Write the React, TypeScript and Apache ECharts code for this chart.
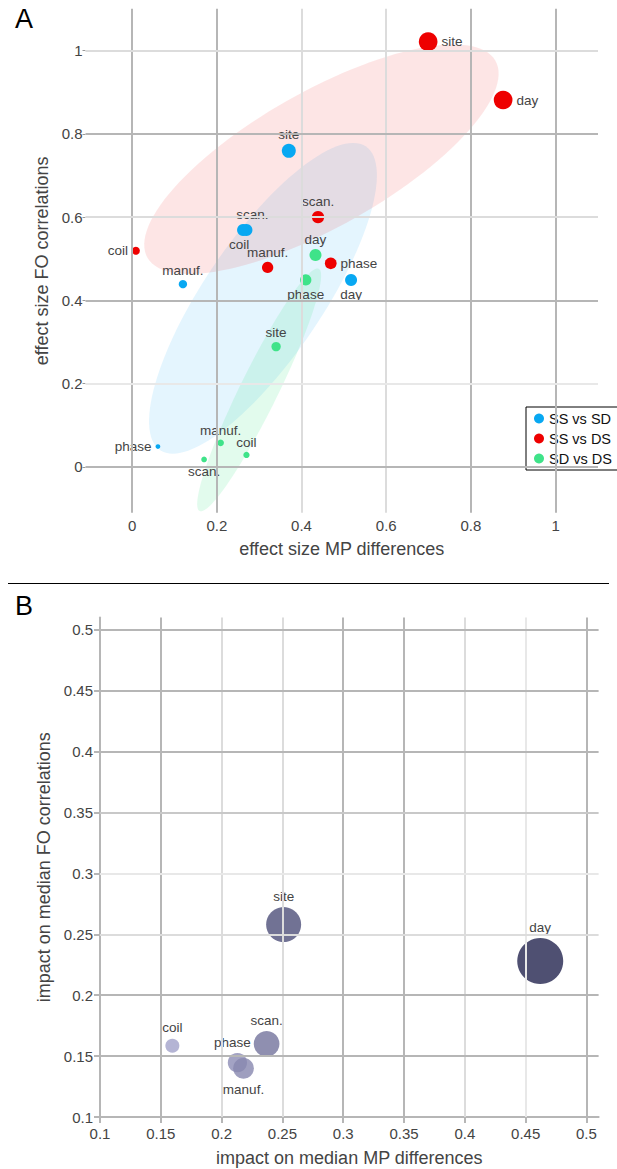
import React, { useEffect, useRef } from "react";
import * as echarts from "echarts";

const FONT = '"Liberation Sans", Arial, Helvetica, sans-serif';

// ---------- Panel A data ----------
const ssSdNames = ["site", "scan.", "coil", "manuf.", "phase", "day"];
const ssSdX = [0.37, 0.27, 0.262, 0.12, 0.061, 0.517];
const ssSdY = [0.759, 0.569, 0.569, 0.439, 0.049, 0.449];
const ssSdSize = [14, 12, 12, 8.3, 4.7, 12];

const ssDsNames = ["site", "day", "scan.", "phase", "manuf.", "coil"];
const ssDsX = [0.699, 0.876, 0.439, 0.469, 0.32, 0.009];
const ssDsY = [1.021, 0.881, 0.6, 0.489, 0.479, 0.519];
const ssDsSize = [18.7, 18.7, 12.3, 11.7, 11.3, 8];

const sdDsNames = ["day", "phase", "site", "manuf.", "coil", "scan."];
const sdDsX = [0.433, 0.41, 0.34, 0.209, 0.27, 0.17];
const sdDsY = [0.509, 0.449, 0.289, 0.058, 0.029, 0.018];
const sdDsSize = [12, 11.3, 9.3, 6.7, 6.3, 5.7];

// confidence ellipses (data units): centre, semi-axes, rotation
const ellipseGroups = ["SS vs SD", "SS vs DS", "SD vs DS"];
const ellipseCx = [0.309, 0.447, 0.3];
const ellipseCy = [0.405, 0.739, 0.185];
const ellipseA = [0.438, 0.474, 0.323];
const ellipseB = [0.14, 0.162, 0.045];
const ellipseAngle = [56.4, 30, 64.2];

const aTicks = [0, 0.2, 0.4, 0.6, 0.8, 1];

// ---------- Panel B data ----------
const bNames = ["day", "site", "scan.", "phase", "manuf.", "coil"];
const bX = [0.462, 0.251, 0.237, 0.213, 0.218, 0.1595];
const bY = [0.228, 0.258, 0.16, 0.1446, 0.14, 0.1585];
const bSize = [46, 35, 25.7, 19.3, 20.7, 14];

const bTicks = [0.1, 0.15, 0.2, 0.25, 0.3, 0.35, 0.4, 0.45, 0.5];
const bGridVals = [0.15, 0.2, 0.25, 0.3, 0.35, 0.4, 0.45, 0.5];

// ---------- styles ----------
const BLUE = "#08a8f2";
const RED = "#ee0000";
const GREEN = "#3fe389";
const seriesColors = [BLUE, RED, GREEN];
const ellipseFills = [
  "rgba(8,168,242,0.11)",
  "rgba(238,0,0,0.1)",
  "rgba(63,227,137,0.15)",
];
const D = "#b6b6b6";
const L = "#dcdcdc";
const LL = "#e8e8e8";
const M = "#c8c8c8";
const aVShade = [D, D, L, L, D, D];
const aHShade = [D, LL, D, L, D, L];
const bVShade = [D, L, L, D, D, L, LL, D];
const bHShade = [D, D, L, LL, M, D, D, D];

const ssSdPos = ["top", "top", "bottom", "top", "left", "bottom"];
const ssSdDx = [0, 6, -4, 0, 0, 0];
const ssDsPos = ["right", "right", "top", "right", "top", "left"];
const sdDsPos = ["top", "bottom", "top", "top", "top", "bottom"];
const bPos = ["top", "top", "top", "top", "bottom", "top"];
const bDx = [0, 0, 0, -5, 0, 0];

const fmt = (v: number) => String(parseFloat(v.toFixed(2)));

function pts(names: string[], xs: number[], ys: number[], ss: number[], pos: string[], dx?: number[]) {
  return names.map((n, i) => ({
    name: n,
    value: [xs[i], ys[i], ss[i]],
    label: {
      position: pos[i],
      distance: pos[i] === "left" || pos[i] === "right" ? 4 : 2,
      offset: [dx ? dx[i] : 0, 0],
    },
  }));
}

function gridLines(vals: number[], shades: string[], key: "xAxis" | "yAxis") {
  return vals.map((v, i) => ({
    [key]: v,
    lineStyle: { color: shades[i], width: 2, type: "solid" },
  }));
}

const labelStyle = {
  show: true,
  formatter: "{b}",
  color: "#444",
  opacity: 1,
  fontSize: 13.5,
  fontFamily: FONT,
};

const legendText = { color: "#111", fontSize: 14.5, fontFamily: FONT };

const option: any = {
  animation: false,
  backgroundColor: "#fff",
  textStyle: { fontFamily: FONT },
  grid: [
    { left: 85.5, top: 8.8, width: 512.5, height: 504, outerBoundsMode: "none", containLabel: false },
    { left: 100, top: 617.6, width: 498.6, height: 499.4, outerBoundsMode: "none", containLabel: false },
  ],
  xAxis: [
    {
      type: "value",
      gridIndex: 0,
      min: -0.11,
      max: 1.1,
      axisLine: { show: false, onZero: false },
      axisTick: { show: false },
      splitLine: { show: false },
      axisLabel: {
        customValues: aTicks,
        formatter: (v: number) => fmt(v),
        color: "#444",
        fontSize: 15,
        fontFamily: FONT,
        margin: 5,
      },
      name: "effect size MP differences",
      nameLocation: "middle",
      nameGap: 27,
      nameTextStyle: { fontSize: 18, color: "#444", fontFamily: FONT },
    },
    {
      type: "value",
      gridIndex: 1,
      min: 0.1,
      max: 0.51,
      axisLine: { show: true, onZero: false, lineStyle: { color: D, width: 2 } },
      axisTick: { show: true, customValues: bTicks, length: 6, lineStyle: { color: D, width: 2 } },
      splitLine: { show: false },
      axisLabel: {
        customValues: bTicks,
        formatter: (v: number) => fmt(v),
        color: "#444",
        fontSize: 15,
        fontFamily: FONT,
        margin: 9,
      },
      name: "impact on median MP differences",
      nameLocation: "middle",
      nameGap: 32,
      nameTextStyle: { fontSize: 18, color: "#444", fontFamily: FONT },
    },
  ],
  yAxis: [
    {
      type: "value",
      gridIndex: 0,
      min: -0.11,
      max: 1.1,
      axisLine: { show: false, onZero: false },
      axisTick: { show: true, customValues: aTicks, length: 3, lineStyle: { color: "#999", width: 1 } },
      splitLine: { show: false },
      axisLabel: {
        customValues: aTicks,
        formatter: (v: number) => fmt(v),
        color: "#444",
        fontSize: 15,
        fontFamily: FONT,
        margin: 3,
      },
      name: "effect size FO correlations",
      nameLocation: "middle",
      nameGap: 23,
      nameTextStyle: { fontSize: 18, color: "#444", fontFamily: FONT },
    },
    {
      type: "value",
      gridIndex: 1,
      min: 0.1,
      max: 0.51,
      axisLine: { show: true, onZero: false, lineStyle: { color: D, width: 2 } },
      axisTick: { show: true, customValues: bTicks, length: 6, lineStyle: { color: D, width: 2 } },
      splitLine: { show: false },
      axisLabel: {
        customValues: bTicks,
        formatter: (v: number) => fmt(v),
        color: "#444",
        fontSize: 15,
        fontFamily: FONT,
        margin: 7,
      },
      name: "impact on median FO correlations",
      nameLocation: "middle",
      nameGap: 37.5,
      nameTextStyle: { fontSize: 18, color: "#444", fontFamily: FONT },
    },
  ],
  legend: {
    data: ellipseGroups.map((n) => ({ name: n, textStyle: legendText })),
    orient: "vertical",
    left: 526,
    top: 407,
    icon: "circle",
    itemWidth: 10,
    itemHeight: 10,
    itemGap: 5,
    padding: [4, 14, 4, 8],
    borderColor: "#000",
    borderWidth: 1,
    borderRadius: 0,
    backgroundColor: "#fff",
    textStyle: legendText,
    selectedMode: false,
  },
  visualMap: {
    type: "continuous",
    show: false,
    seriesIndex: 6,
    dimension: 2,
    min: 14,
    max: 46,
    inRange: { color: ["#a1a1c9", "#23244f"] },
  },
  graphic: [
    { type: "text", left: 15, top: 5, style: { text: "A", fontSize: 27, fill: "#000", fontFamily: FONT } },
    { type: "text", left: 15, top: 592, style: { text: "B", fontSize: 27, fill: "#000", fontFamily: FONT } },
    { type: "line", shape: { x1: 8, y1: 583.5, x2: 609, y2: 583.5 }, style: { stroke: "#000", lineWidth: 1 } },
  ],
  series: [
    {
      type: "scatter",
      xAxisIndex: 0,
      yAxisIndex: 0,
      data: [[0, 0]],
      symbolSize: 0,
      silent: true,
      z: 1,
      markLine: {
        silent: true,
        symbol: ["none", "none"],
        label: { show: false },
        emphasis: { disabled: true },
        lineStyle: { type: "solid" },
        data: [...gridLines(aTicks, aVShade, "xAxis"), ...gridLines(aTicks, aHShade, "yAxis")],
      },
    },
    {
      type: "custom",
      xAxisIndex: 0,
      yAxisIndex: 0,
      z: 2,
      silent: true,
      encode: { x: 0, y: 1 },
      data: ellipseCx.map((c, i) => [c, ellipseCy[i], ellipseA[i], ellipseB[i], ellipseAngle[i]]),
      renderItem: (params: any, api: any) => {
        const cx = api.value(0);
        const cy = api.value(1);
        const a = api.value(2);
        const b = api.value(3);
        const ang = (api.value(4) * Math.PI) / 180;
        const points: number[][] = [];
        for (let k = 0; k < 120; k++) {
          const t = (k / 120) * Math.PI * 2;
          const dx = a * Math.cos(t);
          const dy = b * Math.sin(t);
          points.push(
            api.coord([
              cx + dx * Math.cos(ang) - dy * Math.sin(ang),
              cy + dx * Math.sin(ang) + dy * Math.cos(ang),
            ])
          );
        }
        return {
          type: "polygon",
          shape: { points },
          style: { fill: ellipseFills[params.dataIndex], stroke: "none" },
        };
      },
    },
    {
      type: "scatter",
      name: "SS vs SD",
      xAxisIndex: 0,
      yAxisIndex: 0,
      z: 3,
      data: pts(ssSdNames, ssSdX, ssSdY, ssSdSize, ssSdPos, ssSdDx),
      symbolSize: (v: number[]) => v[2],
      itemStyle: { color: seriesColors[0], opacity: 1 },
      label: labelStyle,
      emphasis: { disabled: true },
    },
    {
      type: "scatter",
      name: "SS vs DS",
      xAxisIndex: 0,
      yAxisIndex: 0,
      z: 3,
      data: pts(ssDsNames, ssDsX, ssDsY, ssDsSize, ssDsPos),
      symbolSize: (v: number[]) => v[2],
      itemStyle: { color: seriesColors[1], opacity: 1 },
      label: labelStyle,
      emphasis: { disabled: true },
    },
    {
      type: "scatter",
      name: "SD vs DS",
      xAxisIndex: 0,
      yAxisIndex: 0,
      z: 3,
      data: pts(sdDsNames, sdDsX, sdDsY, sdDsSize, sdDsPos),
      symbolSize: (v: number[]) => v[2],
      itemStyle: { color: seriesColors[2], opacity: 1 },
      label: labelStyle,
      emphasis: { disabled: true },
    },
    {
      type: "scatter",
      xAxisIndex: 1,
      yAxisIndex: 1,
      data: [[0.1, 0.1]],
      symbolSize: 0,
      silent: true,
      z: 1,
      markLine: {
        silent: true,
        symbol: ["none", "none"],
        label: { show: false },
        emphasis: { disabled: true },
        lineStyle: { type: "solid" },
        data: [...gridLines(bGridVals, bVShade, "xAxis"), ...gridLines(bGridVals, bHShade, "yAxis")],
      },
    },
    {
      type: "scatter",
      name: "impact",
      xAxisIndex: 1,
      yAxisIndex: 1,
      z: 3,
      data: pts(bNames, bX, bY, bSize, bPos, bDx).map((d) => ({
        ...d,
        label: { ...d.label, distance: 4 },
      })),
      symbolSize: (v: number[]) => v[2],
      itemStyle: { color: "#3f4066", opacity: 0.8 },
      label: labelStyle,
      emphasis: { disabled: true },
    },
  ],
};

export default function App() {
  const ref = useRef<HTMLDivElement>(null);
  useEffect(() => {
    if (!ref.current) return;
    const chart = echarts.init(ref.current, null, { renderer: "svg" });
    chart.setOption(option);
    return () => chart.dispose();
  }, []);
  return (
    <div
      ref={ref}
      style={{ position: "absolute", left: 0, top: 0, width: 617, height: 1169, background: "#fff" }}
    />
  );
}
